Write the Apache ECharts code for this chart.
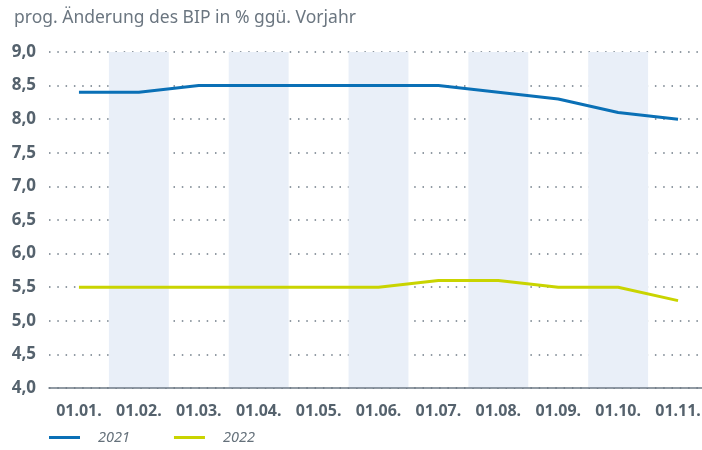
<!DOCTYPE html>
<html>
<head>
<meta charset="utf-8">
<script src="https://cdn.jsdelivr.net/npm/echarts@6/dist/echarts.min.js"></script>
<style>
  html, body { margin: 0; padding: 0; background: #fff; overflow: hidden; }
  #chart { width: 712px; height: 450px; }
</style>
</head>
<body>
<div id="chart"></div>
<script>
// Prognosen für das BIP-Wachstum nach Erstellungsdatum
const categories = ['01.01.', '01.02.', '01.03.', '01.04.', '01.05.', '01.06.', '01.07.', '01.08.', '01.09.', '01.10.', '01.11.'];
const values2021 = [8.4, 8.4, 8.5, 8.5, 8.5, 8.5, 8.5, 8.4, 8.3, 8.1, 8.0];
const values2022 = [5.5, 5.5, 5.5, 5.5, 5.5, 5.5, 5.6, 5.6, 5.5, 5.5, 5.3];
const yMin = 4.0, yMax = 9.0, yStep = 0.5;

const FONT = '"Noto Sans", "Open Sans", sans-serif';
const labelColor = '#55626d';

// the plot area runs slightly past the right edge of the visible page
const chart = echarts.init(document.getElementById('chart'), null, { renderer: 'canvas' });
chart.setOption({
  animation: false,
  backgroundColor: '#ffffff',
  title: {
    text: 'prog. Änderung des BIP in % ggü. Vorjahr',
    left: 9, top: 4,
    textStyle: { fontFamily: FONT, fontSize: 17.5, fontWeight: 'normal', color: '#6b7680' }
  },
  legend: {
    left: 49, top: 430, padding: 0,
    itemWidth: 31, itemHeight: 3, itemGap: 44,
    icon: 'rect',
    textStyle: { fontFamily: FONT, fontSize: 14.5, fontStyle: 'italic', color: '#65717b', padding: [0, 0, 0, 13] },
    data: ['2021', '2022']
  },
  grid: { left: 49, right: 4, top: 52, bottom: 62, containLabel: false },
  xAxis: {
    type: 'category',
    data: categories,
    boundaryGap: true,
    axisLine: { show: true, lineStyle: { color: '#6d7a85', width: 1.5 } },
    axisTick: { show: false },
    axisLabel: { fontFamily: FONT, fontSize: 16, fontWeight: 'bold', color: labelColor, margin: 15 },
    splitLine: { show: false },
    splitArea: { show: true, interval: 0, areaStyle: { color: ['rgba(255,255,255,0)', '#e9eff8'] } }
  },
  yAxis: {
    type: 'value',
    min: yMin, max: yMax, interval: yStep,
    axisLine: { show: false },
    axisTick: { show: false },
    axisLabel: {
      fontFamily: FONT, fontSize: 17, fontWeight: 'bold', color: labelColor, margin: 13,
      formatter: v => v.toFixed(1).replace('.', ',')
    },
    splitLine: { show: true, lineStyle: { color: '#6d7a85', width: 1.5, type: [1.5, 6.8] } }
  },
  series: [
    {
      name: '2021', type: 'line', data: values2021,
      showSymbol: false, symbol: 'none',
      lineStyle: { color: '#0a70b6', width: 3 }, itemStyle: { color: '#0a70b6' }, z: 3
    },
    {
      name: '2022', type: 'line', data: values2022,
      showSymbol: false, symbol: 'none',
      lineStyle: { color: '#c9d400', width: 3 }, itemStyle: { color: '#c9d400' }, z: 3
    }
  ]
});
</script>
</body>
</html>
